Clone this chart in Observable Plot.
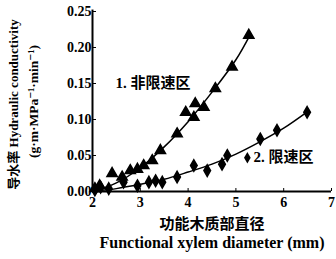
<!DOCTYPE html>
<html><head><meta charset="utf-8">
<script src="https://cdn.jsdelivr.net/npm/d3@7"></script>
<script src="https://cdn.jsdelivr.net/npm/@observablehq/plot@0.6"></script>
<style>
body{margin:0;background:#fff;}
#chart svg{display:block;}
</style></head>
<body><div id="chart"></div>
<script>
// Series 1: 非限速区 (triangles)
const s1x = [2.05, 2.15, 2.41, 2.62, 2.79, 2.94, 3.07, 3.25, 3.42, 3.77, 3.95, 4.12, 4.15, 4.33, 4.57, 4.92, 5.27];
const s1y = [0.004, 0.008, 0.025, 0.020, 0.029, 0.031, 0.036, 0.043, 0.057, 0.080, 0.110, 0.103, 0.122, 0.117, 0.143, 0.173, 0.217];
// Series 2: 限速区 (diamonds)
const s2x = [2.05, 2.17, 2.34, 2.65, 2.94, 3.18, 3.32, 3.46, 3.77, 4.12, 4.40, 4.71, 4.82, 5.51, 5.86, 6.49];
const s2y = [0.002, 0.006, 0.004, 0.013, 0.008, 0.013, 0.015, 0.013, 0.020, 0.036, 0.029, 0.038, 0.050, 0.073, 0.085, 0.110];
// Fitted curves
const f1x = [2.0, 2.5, 3.0, 3.5, 4.0, 4.5, 5.0, 5.3];
const f1y = [0.0, 0.012, 0.033, 0.062, 0.097, 0.138, 0.183, 0.218];
const f2x = [2.0, 2.5, 3.0, 3.5, 4.0, 4.5, 5.0, 5.5, 6.0, 6.5];
const f2y = [0.0, 0.004, 0.010, 0.017, 0.027, 0.038, 0.052, 0.069, 0.088, 0.111];
const xTicks = [2, 3, 4, 5, 6, 7];
const yTicks = [0, 0.05, 0.10, 0.15, 0.20, 0.25];
const label1 = "1. 非限速区";
const label2 = "2. 限速区";
const xTitleCn = "功能木质部直径";
const xTitleEn = "Functional xylem diameter (mm)";
const yTitle1 = "导水率 Hydraulic conductivity";
const yTitle2 = "(g·m·MPa⁻¹·min⁻¹)";

const t1 = s1x.map((x, i) => ({x, y: s1y[i]}));
const t2 = s2x.map((x, i) => ({x, y: s2y[i]}));
const c1 = f1x.map((x, i) => ({x, y: f1y[i]}));
const c2 = f2x.map((x, i) => ({x, y: f2y[i]}));

const serif = "'Liberation Serif', 'DejaVu Serif', serif";
const cjk = "'Noto Sans CJK SC', sans-serif";
const mixed = "'Liberation Serif', 'Noto Sans CJK SC', serif";

const chart = Plot.plot({
  width: 336, height: 259,
  marginLeft: 92, marginRight: 5, marginTop: 11, marginBottom: 68,
  style: {fontFamily: serif, fontSize: "13px", fontWeight: "bold", color: "#000", background: "#fff"},
  x: {domain: [2, 7]},
  y: {domain: [0, 0.25]},
  marks: [
    Plot.ruleX([2], {y1: 0, y2: 0.252, stroke: "#000", strokeWidth: 2}),
    Plot.ruleY([0], {x1: 2, x2: 7, stroke: "#000", strokeWidth: 2}),
    Plot.axisX({ticks: xTicks, tickSize: -3, tickPadding: 9, tickFormat: d => d, label: null, fontSize: 14, fontWeight: "bold"}),
    Plot.axisY({ticks: yTicks, tickSize: -4, tickPadding: 5, tickFormat: d3.format(".2f"), label: null, fontSize: 14, fontWeight: "bold"}),
    Plot.line(c1, {x: "x", y: "y", curve: "catmull-rom", stroke: "#000", strokeWidth: 1.5}),
    Plot.line(c2, {x: "x", y: "y", curve: "catmull-rom", stroke: "#000", strokeWidth: 1.5}),
    Plot.dot(t1, {x: "x", y: "y", symbol: "triangle", r: 3.8, fill: "#000", stroke: "#000"}),
    Plot.dot(t2, {x: "x", y: "y", symbol: "diamond", r: 3.5, fill: "#000", stroke: "#000"}),
    Plot.text([label1], {x: 2.48, y: 0.151, text: d => d, textAnchor: "start", fontFamily: mixed, fontWeight: "bold", fontSize: 15}),
    Plot.dot([0], {x: 5.24, y: 0.047, symbol: "diamond", r: 3.5, fill: "#000"}),
    Plot.text([label2], {x: 5.37, y: 0.047, text: d => d, textAnchor: "start", fontFamily: mixed, fontWeight: "bold", fontSize: 15}),
    Plot.text([xTitleCn], {frameAnchor: "bottom", dy: 37, text: d => d, fontFamily: cjk, fontWeight: "bold", fontSize: 15}),
    Plot.text([xTitleEn], {frameAnchor: "bottom", dy: 56, text: d => d, fontFamily: serif, fontWeight: "bold", fontSize: 16}),
    Plot.text([yTitle1], {frameAnchor: "left", textAnchor: "middle", dx: -79, dy: 3, rotate: -90, text: d => d, fontFamily: mixed, fontWeight: "bold", fontSize: 13}),
    Plot.text([yTitle2], {frameAnchor: "left", textAnchor: "middle", dx: -59, dy: 0, rotate: -90, text: d => d, fontFamily: serif, fontWeight: "bold", fontSize: 13.5})
  ]
});
document.getElementById("chart").appendChild(chart);
</script>
</body></html>
